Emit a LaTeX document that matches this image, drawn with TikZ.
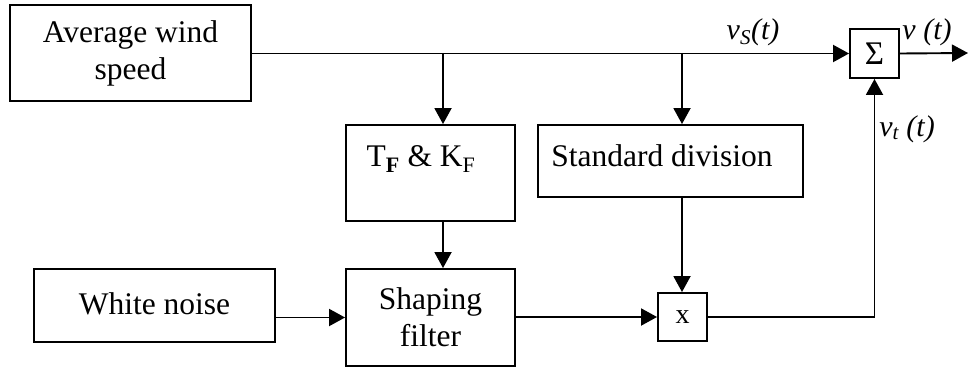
\documentclass[tikz,border=0pt]{standalone}
\usepackage{fontspec}
\setmainfont{Liberation Serif}
\usetikzlibrary{arrows.meta}

\tikzset{
  blk/.style={draw, line width=1.9pt, rectangle, inner sep=0pt, align=center,
              font=\fontsize{31.5}{37}\selectfont},
  txt/.style={inner sep=0pt, font=\fontsize{31.5}{37}\selectfont},
  lbl/.style={inner sep=0pt, font=\fontsize{30}{34}\selectfont\itshape},
  flow/.style={line width=1.9pt, -{Triangle[length=16pt,width=17pt]}}
}

\begin{document}
\begin{tikzpicture}[x=1pt,y=-1pt]
  \useasboundingbox (0,0) rectangle (968,369);

  % blocks
  \node[blk, minimum width=241pt, minimum height=96pt] (avg) at (130.5,53) {Average wind\\speed};
  \node[blk, minimum width=169pt, minimum height=96pt] (tk) at (430.5,173) {};
  \node[txt] (tktext) at (421,159) {T\textsubscript{\textbf{F}} \& K\textsubscript{F}};
  \node[blk, minimum width=265pt, minimum height=72pt] (sd) at (670.5,161) {};
  \node[txt] (sdtext) at (662,156) {Standard division};
  \node[blk, minimum width=241pt, minimum height=73pt] (wn) at (154.5,305.5) {\raisebox{4pt}{White noise}};
  \node[blk, minimum width=169pt, minimum height=97pt] (sf) at (430.5,317.5) {Shaping\\filter};
  \node[blk, minimum width=49pt, minimum height=48pt, font=\fontsize{28}{32}\selectfont] (mul) at (682.5,317) {\raisebox{-4pt}{x}};
  \node[blk, minimum width=49pt, minimum height=49pt, font=\fontsize{33}{36}\selectfont] (sum) at (874.5,53.5) {Σ};

  % junctions and free end
  \coordinate (j1) at (443,53);
  \coordinate (j2) at (682,53);
  \coordinate (out) at (968,53);

  % connectors
  \draw[flow] (avg.east |- sum.west) -- (sum.west);
  \draw[flow] (j1) -- (j1 |- tk.north);
  \draw[flow] (j2) -- (j2 |- sd.north);
  \draw[flow] (tk.south -| j1) -- (sf.north -| j1);
  \draw[flow] (sd.south -| j2) -- (mul.north -| j2);
  \draw[flow] (wn.east |- sf.west) -- (sf.west);
  \draw[flow] (sf.east |- mul.west) -- (mul.west);
  \draw[flow] (mul.east) -| (sum.south);
  \draw[flow] (sum.east) -- (out);

  % signal labels
  \node[lbl] (lvs) at (753,32) {v\textsubscript{S}(t)};
  \node[lbl] (lv) at (927,32) {v (t)};
  \node[lbl] (lvt) at (907,129) {v\textsubscript{t} (t)};
\end{tikzpicture}
\end{document}
